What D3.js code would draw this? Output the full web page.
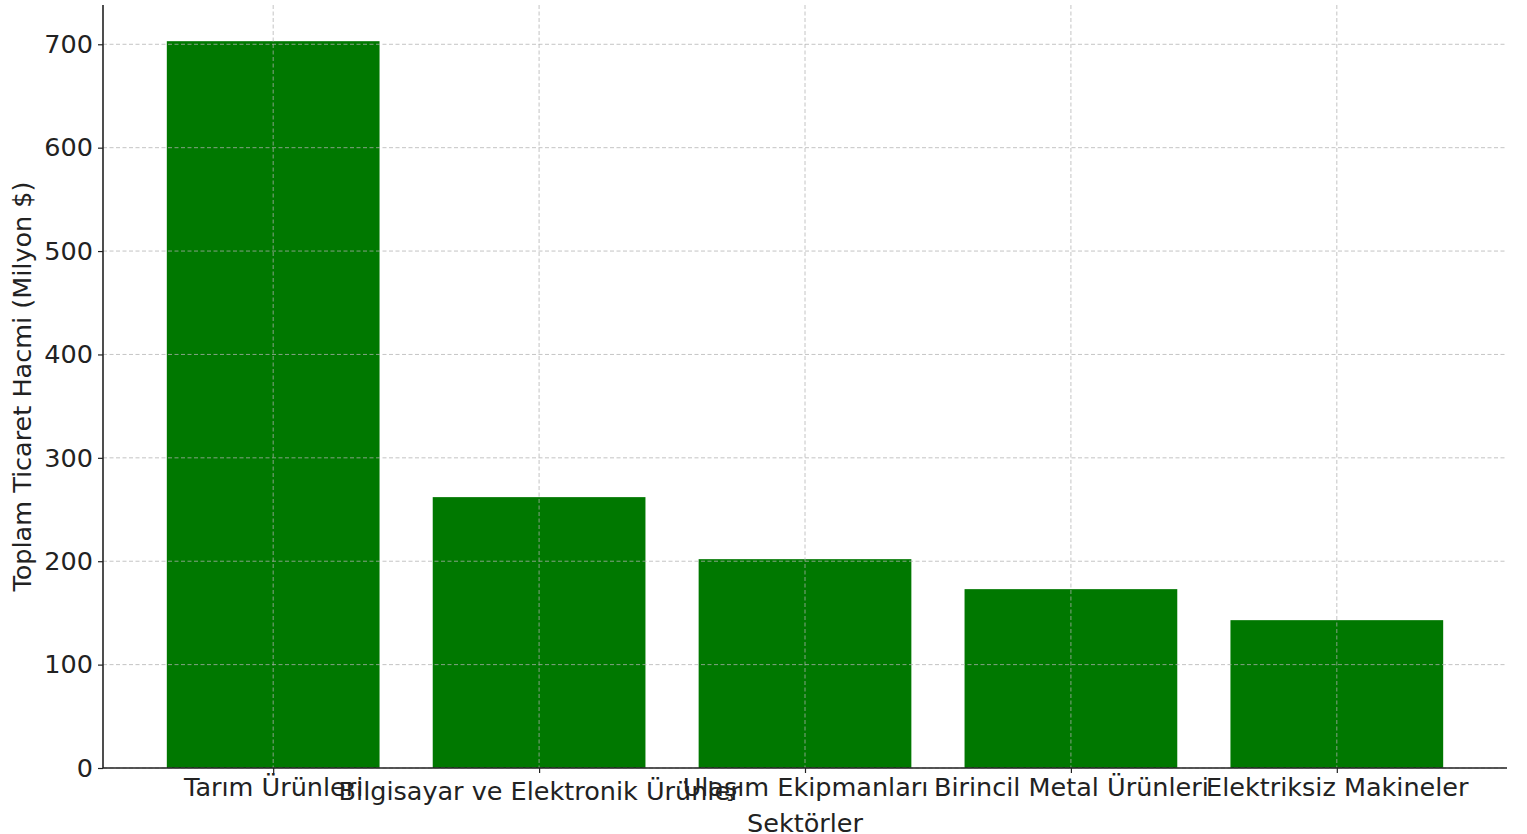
<!DOCTYPE html>
<html><head><meta charset="utf-8">
<script src="https://cdn.jsdelivr.net/npm/d3@7"></script>
<style>body{margin:0;background:#fff;}svg{display:block;font-family:"DejaVu Sans",sans-serif;}</style>
</head><body>
<script>
const categories = ["Tarım Ürünleri","Bilgisayar ve Elektronik Ürünler","Ulaşım Ekipmanları","Birincil Metal Ürünleri","Elektriksiz Makineler"];
const values = [703, 262, 202, 173, 143];
const yTicks = [0,100,200,300,400,500,600,700];
const xTitle = "Sektörler";
const yTitle = "Toplam Ticaret Hacmi (Milyon $)";

const W=1527,H=834, FS=25.5;
const m={left:103,right:1507,top:5,bottom:768};
const svg=d3.select("body").append("svg").attr("width",W).attr("height",H);

const x=d3.scaleLinear().domain([-0.64,4.64]).range([m.left,m.right]);
const y=d3.scaleLinear().domain([0,738]).range([m.bottom,m.top]);
const bw = x(0.4)-x(-0.4);

// bars
svg.append("g").selectAll("rect").data(values).join("rect")
  .attr("x",(d,i)=>x(i)-bw/2).attr("width",bw)
  .attr("y",d=>y(d)).attr("height",d=>y(0)-y(d))
  .attr("fill","#007800");

// grid
const grid=svg.append("g").attr("stroke","#b0b0b0").attr("stroke-opacity",0.75).attr("stroke-dasharray","4,2.5").attr("stroke-width",1);
yTicks.forEach(t=>grid.append("line").attr("x1",m.left).attr("x2",m.right).attr("y1",y(t)).attr("y2",y(t)));
categories.forEach((c,i)=>grid.append("line").attr("x1",x(i)).attr("x2",x(i)).attr("y1",m.top).attr("y2",m.bottom));

// axes
const ya=d3.axisLeft(y).tickValues(yTicks).tickSize(5).tickPadding(5);
const gy=svg.append("g").attr("transform",`translate(${m.left},0)`).call(ya);
gy.select(".domain").attr("d",`M0,${m.top}V${m.bottom}`).attr("stroke","#222").attr("stroke-width",1.6);
gy.selectAll(".tick line").attr("stroke","#222").attr("stroke-width",1.2);
gy.selectAll(".tick text").attr("font-size",FS).attr("fill","#222").attr("font-family","DejaVu Sans");

const xa=d3.axisBottom(x).tickValues(d3.range(categories.length)).tickFormat(i=>categories[i]).tickSize(5).tickPadding(4);
const gx=svg.append("g").attr("transform",`translate(0,${m.bottom})`).call(xa);
gx.select(".domain").attr("d",`M${m.left},0H${m.right}`).attr("stroke","#222").attr("stroke-width",1.6);
gx.selectAll(".tick line").attr("stroke","#222").attr("stroke-width",1.2);
gx.selectAll(".tick text").attr("font-size",FS).attr("fill","#222").attr("font-family","DejaVu Sans")
  .attr("dy",(d,i)=>i===1?"0.9em":"0.75em");

svg.append("text").attr("x",(m.left+m.right)/2).attr("y",832).attr("text-anchor","middle")
  .attr("font-size",FS).attr("fill","#222").text(xTitle);
svg.append("text").attr("transform",`translate(31,${(m.top+m.bottom)/2}) rotate(-90)`).attr("text-anchor","middle")
  .attr("font-size",FS).attr("fill","#222").text(yTitle);
</script>
</body></html>
